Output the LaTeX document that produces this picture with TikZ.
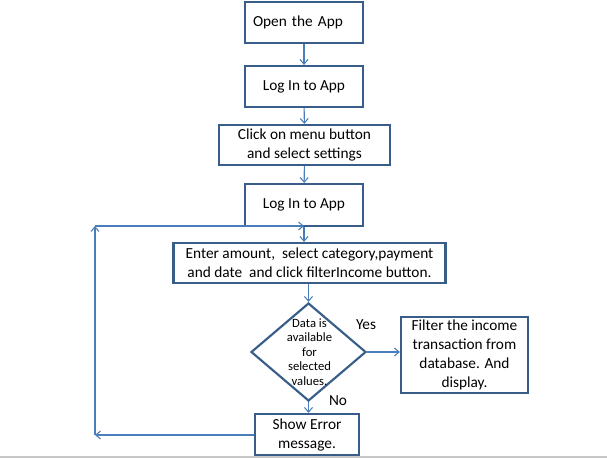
\documentclass[tikz,border=0pt]{standalone}
\usepackage{fontspec}
\setmainfont{Carlito}
\usetikzlibrary{shapes.geometric,arrows.meta}
\definecolor{boxc}{RGB}{56,93,138}
\definecolor{linec}{RGB}{74,126,187}
\tikzset{
  flowbox/.style={draw=boxc, line width=1.6pt, rectangle, align=center, inner sep=0pt,
    font=\fontsize{11.5}{14.25}\selectfont},
  decision/.style={draw=boxc, line width=1.6pt, diamond, inner sep=0pt},
  dectext/.style={align=center, inner sep=0pt, font=\fontsize{9.5}{10.8}\selectfont},
  flowlabel/.style={inner sep=0pt, font=\fontsize{11.5}{14.25}\selectfont},
  conn/.style={draw=linec, line width=0.8pt, -{Straight Barb[length=3.5pt,width=6pt]}}
}
\begin{document}
\begin{tikzpicture}[x=0.75pt,y=-0.75pt]
\useasboundingbox (0,0) rectangle (607,458);
\fill[white] (0,0) rectangle (607,458);
\fill[black!22] (0,456) rectangle (607,458);

\node[flowbox, minimum width=88.5pt, minimum height=30.75pt, text width=76.5pt, align=left, inner xsep=6pt] (b1) at (304,22.5) {Open the App};
\node[flowbox, minimum width=88.5pt, minimum height=30.75pt] (b2) at (304,86.5) {Log In to App};
\node[flowbox, minimum width=128.25pt, minimum height=30pt] (b3) at (304.5,145) {Click on menu button\\and select settings};
\node[flowbox, minimum width=88.5pt, minimum height=31.5pt] (b4) at (304,205) {Log In to App};
\node[flowbox, minimum width=204pt, minimum height=30pt] (b5) at (309.5,263) {Enter amount,\ \ select category,payment\\and date\ \ and click filterIncome button.};
\node[decision, minimum width=86.25pt, minimum height=73.5pt] (d) at (308.5,352) {};
\node[dectext] (dt) at (309.5,352) {Data is\\available\\for\\selected\\values.};
\node[flowbox, minimum width=95.25pt, minimum height=57pt] (b6) at (464.5,355) {Filter the income\\transaction from\\database. And\\display.};
\node[flowbox, minimum width=78pt, minimum height=30.75pt] (b7) at (307,434.5) {Show Error\\message.};

\node[flowlabel] (yes) at (366,325) {Yes};
\node[flowlabel] (no) at (338,401) {No};

\coordinate (c1) at (95,435);
\coordinate (c2) at (95,226);
\coordinate (c3) at (304,226);

\draw[conn] (b1) -- (b2);
\draw[conn] (b2) -- (b3);
\draw[conn] (b3) -- (b4);
\draw[conn] (b4.south) -- (b4.south |- b5.north);
\draw[conn] (b5.south -| d.north) -- (d.north);
\draw[conn] (d.east) -- (d.east -| b6.west);
\draw[conn] (d.south) -- (d.south |- b7.north);
\draw[conn] (b7.west |- c1) -- (c1);
\draw[conn] (c1) -- (c2);
\draw[conn] (c2) -- (c3);
\end{tikzpicture}
\end{document}
